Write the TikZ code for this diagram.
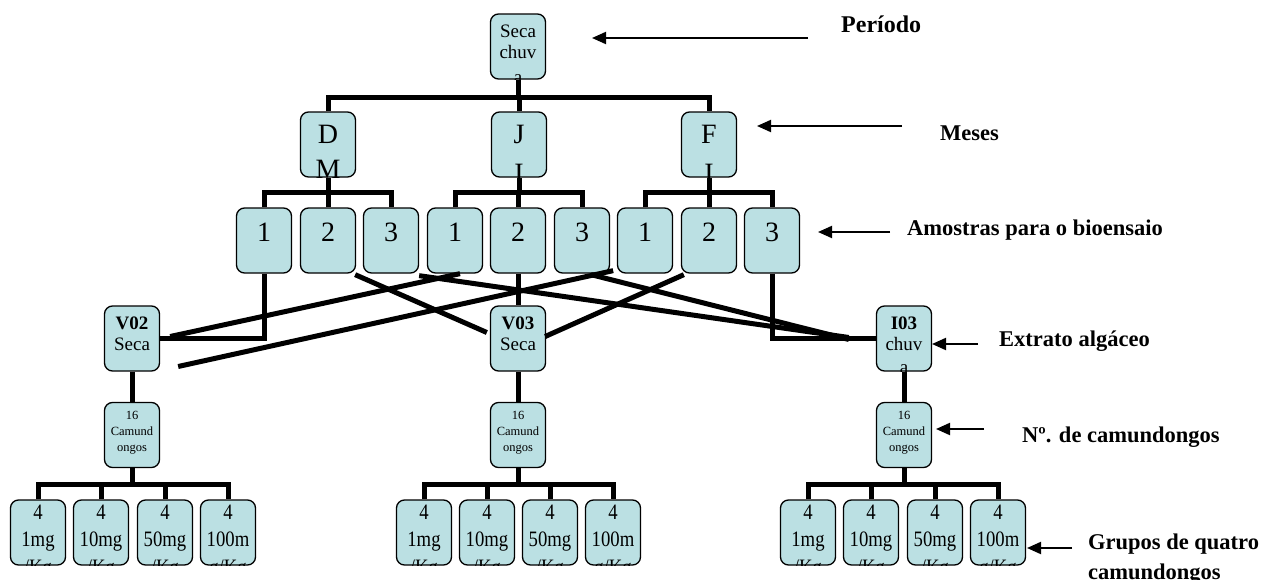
\documentclass[tikz,border=0pt]{standalone}
\usepackage{fontspec}
\setmainfont{Liberation Serif}
\newfontfamily\narrowserif[FakeStretch=0.85]{Liberation Serif}
\usetikzlibrary{arrows.meta,calc}
\definecolor{boxfill}{RGB}{187,224,227}
\newcommand\fTop{\fontsize{19}{21}\selectfont}
\newcommand\fBig{\fontsize{28}{33}\selectfont}
\newcommand\fSmall{\fontsize{12.5}{16}\selectfont}
\newcommand\fBot{\narrowserif\fontsize{22}{27}\selectfont}
\newcommand\fLbl{\bfseries\fontsize{22.5}{30}\selectfont}
\tikzset{
  box/.style={draw=black, line width=1.3pt, fill=boxfill, rounded corners=8pt,
    minimum width=55pt, minimum height=65pt, inner sep=0pt},
  txt/.style={anchor=north, inner sep=0pt, outer sep=0pt, align=center,
    draw=none, fill=none, minimum width=0pt, minimum height=0pt, rounded corners=0pt},
  wire/.style={line width=5pt, draw=black},
  ptr/.style={line width=2pt, draw=black, -{Triangle[length=14pt,width=12pt]}},
  lbl/.style={anchor=base west, inner sep=0pt, font=\fLbl}
}
\newcommand\cbx[6]{\node[box, path picture={\node[txt, font=#5] at ([yshift=-#4pt]path picture bounding box.north) {#6};}] (#1) at (#2,#3) {};}
\begin{document}
\begin{tikzpicture}[x=1pt,y=-1pt]
\useasboundingbox (0,0) rectangle (1262,579);
% ---- boxes
\cbx{T}{518}{46.5}{11}{\fTop}{Seca\\chuv\\[4pt]a}
\cbx{D}{328}{144.5}{13}{\fBig}{D\\[2pt]M}
\cbx{J}{519}{144.5}{13}{\fBig}{J\\[6pt]I}
\cbx{F}{709}{144.5}{13}{\fBig}{F\\[6pt]I}
\cbx{s1}{264}{240.5}{15}{\fBig}{1}
\cbx{s2}{328}{240.5}{15}{\fBig}{2}
\cbx{s3}{391}{240.5}{15}{\fBig}{3}
\cbx{s4}{455}{240.5}{15}{\fBig}{1}
\cbx{s5}{518}{240.5}{15}{\fBig}{2}
\cbx{s6}{582}{240.5}{15}{\fBig}{3}
\cbx{s7}{645}{240.5}{15}{\fBig}{1}
\cbx{s8}{709}{240.5}{15}{\fBig}{2}
\cbx{s9}{772}{240.5}{15}{\fBig}{3}
\cbx{V02}{132}{338.5}{11}{\fTop}{\textbf{V02}\\Seca}
\cbx{V03}{518}{338.5}{11}{\fTop}{\textbf{V03}\\Seca}
\cbx{I03}{904}{338.5}{11}{\fTop}{\textbf{I03}\\chuv\\[2pt]a}
\cbx{N1}{132}{435}{9}{\fSmall}{16\\Camund\\ongos}
\cbx{N2}{518}{435}{9}{\fSmall}{16\\Camund\\ongos}
\cbx{N3}{904}{435}{9}{\fSmall}{16\\Camund\\ongos}
\cbx{qa1}{38}{532.5}{5}{\fBot}{4\\1mg\\[1pt]/Kg}
\cbx{qa2}{101}{532.5}{5}{\fBot}{4\\10mg\\[1pt]/Kg}
\cbx{qa3}{165}{532.5}{5}{\fBot}{4\\50mg\\[1pt]/Kg}
\cbx{qa4}{228}{532.5}{5}{\fBot}{4\\100m\\[1pt]g/Kg}
\cbx{qb1}{424}{532.5}{5}{\fBot}{4\\1mg\\[1pt]/Kg}
\cbx{qb2}{487}{532.5}{5}{\fBot}{4\\10mg\\[1pt]/Kg}
\cbx{qb3}{550}{532.5}{5}{\fBot}{4\\50mg\\[1pt]/Kg}
\cbx{qb4}{613}{532.5}{5}{\fBot}{4\\100m\\[1pt]g/Kg}
\cbx{qc1}{808}{532.5}{5}{\fBot}{4\\1mg\\[1pt]/Kg}
\cbx{qc2}{871}{532.5}{5}{\fBot}{4\\10mg\\[1pt]/Kg}
\cbx{qc3}{935}{532.5}{5}{\fBot}{4\\50mg\\[1pt]/Kg}
\cbx{qc4}{998}{532.5}{5}{\fBot}{4\\100m\\[1pt]g/Kg}
% ---- tree connectors
\coordinate (bar1) at (0,97);
\coordinate (bar2) at (0,192);
\coordinate (bar5) at (0,484);
\draw[wire] (T.south) -- (T.south |- bar1);
\draw[wire] (D.north) -- (D.north |- bar1) -- (F.north |- bar1) -- (F.north);
\draw[wire] (J.north) -- (J.north |- bar1);
\foreach \m/\a/\b/\c in {D/s1/s2/s3, J/s4/s5/s6, F/s7/s8/s9}{
  \draw[wire] (\m.south) -- (\m.south |- bar2);
  \draw[wire] (\a.north) -- (\a.north |- bar2) -- (\c.north |- bar2) -- (\c.north);
  \draw[wire] (\b.north) -- (\b.north |- bar2);
}
% ---- samples to extracts
\coordinate (Ij) at ($(I03.west)+(-27,-1)$);
\draw[wire] (s1.south) |- (V02.east);
\draw[wire] ($(s4.south)+(5,0)$) -- ($(V02.east)+(10,-2)$);
\draw[wire] ($(s6.south east)+(3,-3)$) -- ($(V02.east)+(18,28)$);
\draw[wire] ($(s2.south east)+(-1,1)$) -- ($(V03.west)+(-3,-6)$);
\draw[wire] (s5.south) -- (V03.north);
\draw[wire] ($(s8.south west)+(3,1)$) -- ($(V03.east)+(-1,-2)$);
\draw[wire] ($(s3.south east)+(0,2)$) -- (Ij);
\draw[wire] ($(s6.south)+(9,1)$) -- ($(Ij)+(0,2)$);
\draw[wire] (s9.south) |- (I03.west);
% ---- extracts to mice
\draw[wire] (V02.south) -- (N1.north);
\draw[wire] (V03.south) -- (N2.north);
\draw[wire] (I03.south) -- (N3.north);
\foreach \n/\a/\b/\c/\d in {N1/qa1/qa2/qa3/qa4, N2/qb1/qb2/qb3/qb4, N3/qc1/qc2/qc3/qc4}{
  \draw[wire] (\n.south) -- (\n.south |- bar5);
  \draw[wire] (\a.north) -- (\a.north |- bar5) -- (\d.north |- bar5) -- (\d.north);
  \draw[wire] (\b.north) -- (\b.north |- bar5);
  \draw[wire] (\c.north) -- (\c.north |- bar5);
}
% ---- labels and pointers
\node[lbl, font=\bfseries\fontsize{24}{30}\selectfont] (Lp) at (841,32) {Período};
\node[lbl] (Lm) at (940,140) {Meses};
\node[lbl] (La) at (907,235) {Amostras para o bioensaio};
\node[lbl] (Le) at (999,346.7) {Extrato algáceo};
\node[lbl] (Ln) at (1022,442) {Nº. de camundongos};
\node[anchor=north west, inner sep=0pt, align=left, font=\fLbl] (Lg) at (1088,534) {Grupos de quatro\\camundongos};
\coordinate (pa) at (808,38);   \coordinate (pb) at (592,38);
\coordinate (ma) at (902,126);  \coordinate (mb) at (757,126);
\coordinate (aa) at (890,232);  \coordinate (ab) at (818,232);
\coordinate (ea) at (978,344);  \coordinate (eb) at (932,344);
\coordinate (na) at (984,429);  \coordinate (nb) at (936,429);
\coordinate (ga) at (1072,548); \coordinate (gb) at (1027,548);
\draw[ptr] (pa) -- (pb);
\draw[ptr] (ma) -- (mb);
\draw[ptr] (aa) -- (ab);
\draw[ptr] (ea) -- (eb);
\draw[ptr] (na) -- (nb);
\draw[ptr] (ga) -- (gb);
\end{tikzpicture}
\end{document}
